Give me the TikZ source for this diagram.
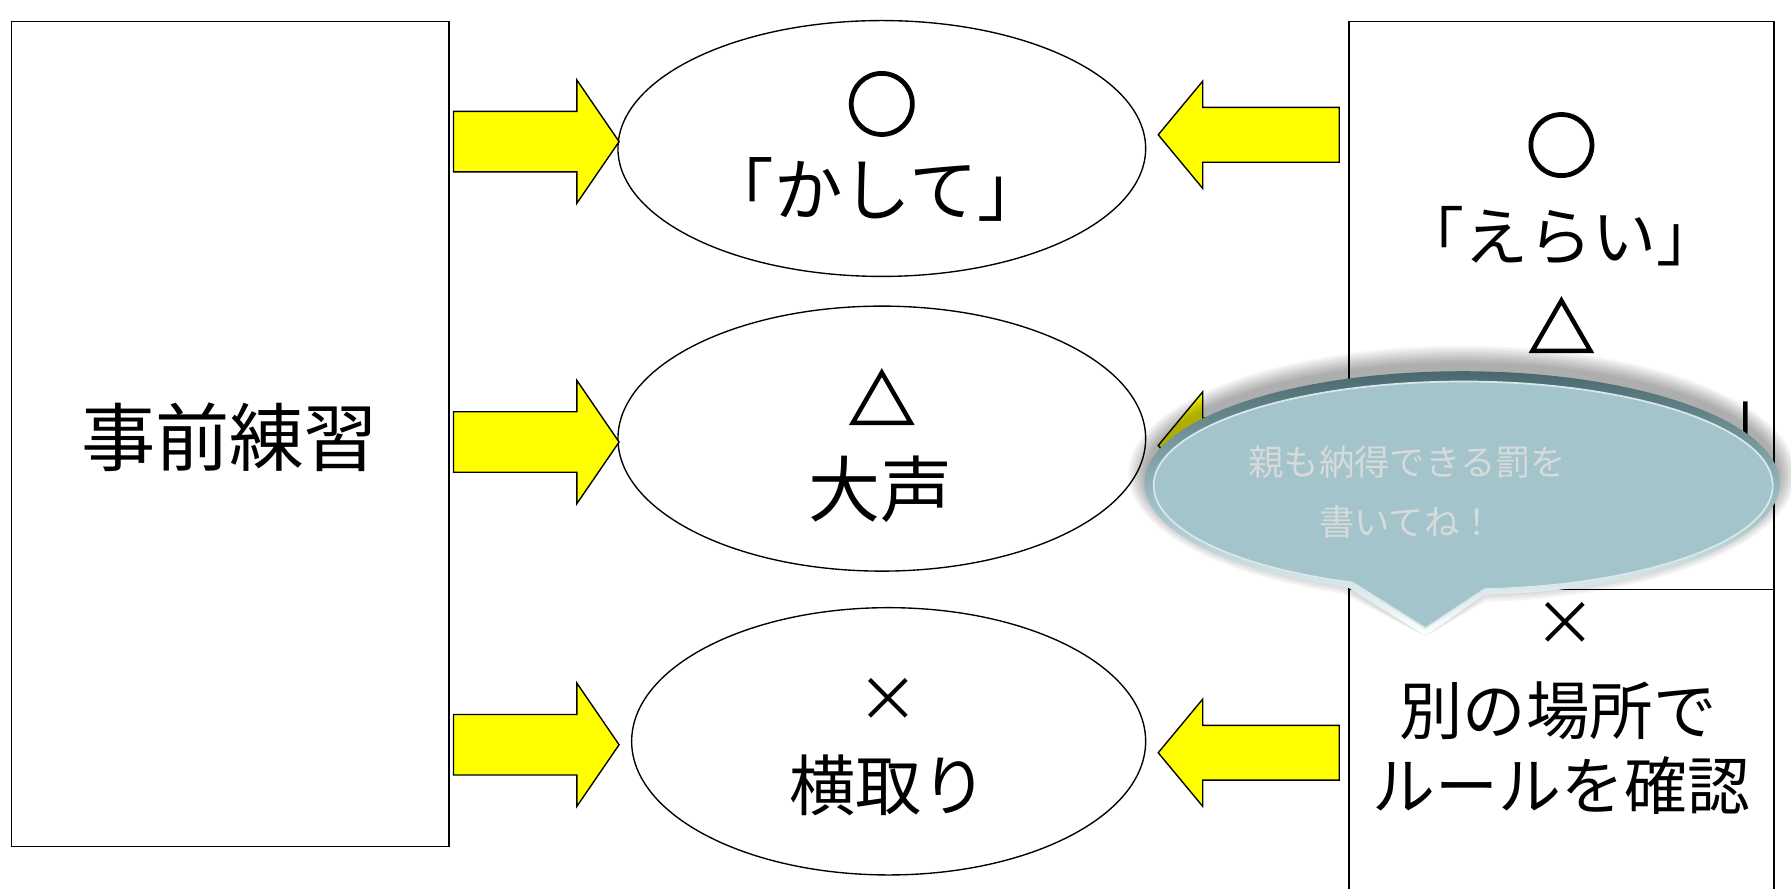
\documentclass[tikz,border=0pt]{standalone}
\usepackage{fontspec}
\setmainfont{Noto Sans CJK JP}
\usetikzlibrary{calc,shapes.geometric}
\definecolor{arrowyellow}{HTML}{FFFF00}
\definecolor{calloutface}{HTML}{A3C4CA}
\definecolor{calloutrim}{HTML}{46666B}
\definecolor{calloutmid}{HTML}{9CBEC4}
\definecolor{calloutline}{HTML}{D9E9EB}
\definecolor{callouttext}{HTML}{D6DADB}
% block arrow: tail, tip, shaft half width, head half width, head length
\newcommand\blockarrow[5]{%
  \coordinate (hb) at ($(#2)!#5!(#1)$);
  \draw[yellowarrow] ($(#1)!#3!90:(#2)$) -- ($(hb)!#3!90:(#2)$) -- ($(hb)!#4!90:(#2)$)
    -- (#2) -- ($(hb)!#4!-90:(#2)$) -- ($(hb)!#3!-90:(#2)$) -- ($(#1)!#3!-90:(#2)$) -- cycle;
}
\begin{document}
\begin{tikzpicture}[x=1pt,y=-1pt,
  rectbox/.style={draw=black, line width=1.3pt, fill=white, inner sep=0pt},
  ovalnode/.style={ellipse, draw=black, line width=1.2pt, fill=white, inner sep=0pt},
  yellowarrow/.style={draw=black, line width=1.2pt, fill=arrowyellow, line join=miter},
  jp/.style={inner sep=0pt, font=\fontsize{#1}{#1}\selectfont},
  sym/.style={inner sep=0pt, font=\fontsize{#1}{#1}\selectfont\addfontfeature{FakeBold=3}},
  calloutshape/.style n args={4}{insert path={(#3) ++(274:#1 and #2) arc[start angle=274,end angle=609,x radius=#1,y radius=#2] -- (#4) -- cycle}},
]
\useasboundingbox (0,0) rectangle (1568,778);
\clip (0,0) rectangle (1568,778);
\fill[white] (0,0) rectangle (1568,778);

% left box
\node[rectbox, minimum width=383pt, minimum height=722pt] (lbox) at (201.5,380) {};
\node[jp=65] (lboxt) at (201,383) {事前練習};

% ellipses
\node[ovalnode, minimum width=462pt, minimum height=224pt] (e1) at (772,130) {};
\node[ovalnode, minimum width=462pt, minimum height=232pt] (e2) at (772,384) {};
\node[ovalnode, minimum width=450pt, minimum height=234pt] (e3) at (778,649) {};
\node[sym=62] (e1a) at (772,91) {○};
\node[jp=60] (e1b) at (767,166) {「かして」};
\node[sym=58] (e2a) at (772,348) {△};
\node[jp=63] (e2b) at (771,428) {大声};
\node[jp=54] (e3a) at (778,613) {×};
\node[jp=58] (e3b) at (778,688) {横取り};

% right boxes
\node[rectbox, minimum width=372pt, minimum height=497pt] (rb1) at (1367,267.5) {};
\node[rectbox, minimum width=372pt, minimum height=284pt] (rb2) at (1367,658) {};
\node[sym=62] (r1a) at (1367,127) {○};
\node[jp=56] (r1b) at (1366,207) {「えらい」};
\node[sym=58] (r1c) at (1367,285) {△};
\node[jp=54, anchor=east] (r1d) at (1566,362) {「　　　　　」};
\node[jp=54] (r2a) at (1370,546) {×};
\node[jp=55.5] (r2b) at (1364,622) {別の場所で};
\node[jp=55] (r2c) at (1367,688) {ルールを確認};

% arrow end points
\coordinate (la1s) at (397,124);  \coordinate (la1e) at (542,124);
\coordinate (la2s) at (397,387);  \coordinate (la2e) at (542,387);
\coordinate (la3s) at (397,652);  \coordinate (la3e) at (542,652);
\coordinate (ra1s) at (1172.5,118); \coordinate (ra1e) at (1014,118);
\coordinate (ra2s) at (1172.5,390); \coordinate (ra2e) at (1014,390);
\coordinate (ra3s) at (1172.5,659); \coordinate (ra3e) at (1014,659);

\blockarrow{la1s}{la1e}{26.5pt}{54pt}{37pt}
\blockarrow{la2s}{la2e}{26.5pt}{54pt}{37pt}
\blockarrow{la3s}{la3e}{26.5pt}{54pt}{37pt}
\blockarrow{ra1s}{ra1e}{24pt}{47pt}{39pt}
\blockarrow{ra2s}{ra2e}{24pt}{47pt}{39pt}
\blockarrow{ra3s}{ra3e}{24pt}{47pt}{39pt}

% callout
\coordinate (cc) at (1280,423);
\coordinate (cs) at (1280,415);
\coordinate (ctip) at (1248,557);
\coordinate (cc2) at (1281,425);
\coordinate (ctip2) at (1248,550);
\foreach \i [evaluate=\i as \rx using 276+1.8*\i, evaluate=\i as \ry using 96+1.8*\i] in {1,...,9}
  \path[fill=black, fill opacity=0.04, calloutshape={\rx pt}{\ry pt}{cs}{ctip}];
\path[shade, top color=calloutrim, bottom color=white, middle color=calloutmid, calloutshape={278pt}{98pt}{cc}{ctip}];
\path[fill=calloutface, draw=calloutline, line width=1.5pt, calloutshape={271pt}{91pt}{cc2}{ctip2}];
\node[jp=31, text=callouttext, align=center, font=\fontsize{31}{53}\selectfont] (ctext) at (1232,431) {親も納得できる罰を\\書いてね！};
\end{tikzpicture}
\end{document}
